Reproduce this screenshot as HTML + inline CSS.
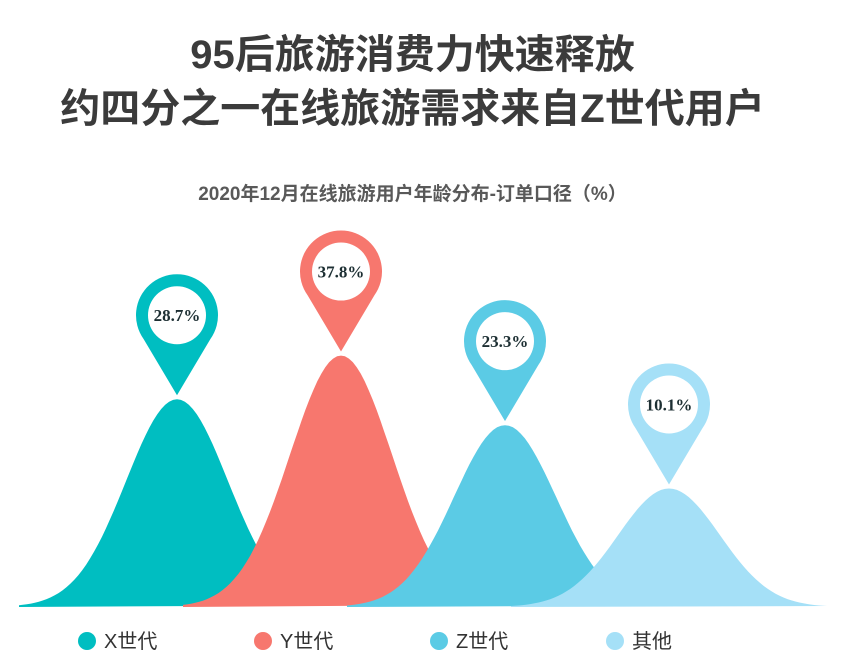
<!DOCTYPE html>
<html><head><meta charset="utf-8"><style>
body{margin:0;background:#fff;width:841px;height:662px;overflow:hidden;font-family:"Liberation Sans","Noto Sans CJK SC",sans-serif}
.t{position:absolute;left:0;width:841px;text-align:center;font-weight:bold;color:#3b3b3b}
</style></head><body>
<div class="t" style="top:22px;font-size:40px;left:-8px">95后旅游消费力快速释放</div>
<div class="t" style="top:76px;font-size:40px;left:-8px">约四分之一在线旅游需求来自Z世代用户</div>
<div class="t" style="top:179px;font-size:19px;color:#595959;left:-8px">2020年12月在线旅游用户年龄分布-订单口径（%）</div>
<svg id="c" width="841" height="662" style="position:absolute;left:0;top:0"></svg>
<script>
const categories=["X世代","Y世代","Z世代","其他"];
const values=[28.7,37.8,23.3,10.1];
const labels=["28.7%","37.8%","23.3%","10.1%"];
const colors=["#00BEC1","#F7776E","#5BCBE5","#A5E0F7"];
const NS="http://www.w3.org/2000/svg";
const svg=document.getElementById("c");
const base=607, x0=177, step=164, half=158;
function xPos(i){return x0+i*step;}
function yH(v){return 70+4.8*v;}
function mk(t,a){const e=document.createElementNS(NS,t);for(const k in a)e.setAttribute(k,a[k]);svg.appendChild(e);return e;}
values.forEach((v,i)=>{
  const c=xPos(i), h=yH(v), sig=half/3.1;
  let d="M"+(c-half)+","+base;
  for(let k=0;k<=80;k++){const x=c-half+k*2*half/80;const y=base-h*Math.exp(-((x-c)**2)/(2*sig*sig));d+=" L"+x.toFixed(1)+","+y.toFixed(1);}
  d+=" Z";
  const p=mk("path",{d:d,fill:colors[i]});
  
  
});
values.forEach((v,i)=>{
  const c=xPos(i), peak=base-yH(v), cy=peak-84, r=41, tip=peak-4;
  const a=0.95;
  const sx=r*Math.sin(a), sy=r*Math.cos(a);
  const pin=mk("path",{d:`M${c},${tip} L${c-sx},${cy+sy} A${r},${r} 0 1 1 ${c+sx},${cy+sy} Z`,fill:colors[i]});
  
  
  const w=mk("ellipse",{cx:c,cy:cy,rx:29,ry:29,fill:"#fff"});
  
  
  const t=mk("text",{x:c,y:cy+6,"text-anchor":"middle","font-family":"Liberation Serif,serif","font-weight":"bold","font-size":"17",fill:"#1d2f33"});
  t.textContent=labels[i];
  
  
  const lx=87+i*176;
  const dot=mk("circle",{cx:lx,cy:641,r:9,fill:colors[i]});
  
  
  const lt=mk("text",{x:lx+17,y:648,"font-size":"20",fill:"#333","font-family":"Liberation Sans,Noto Sans CJK SC,sans-serif"});
  lt.textContent=categories[i];
  
  
});
</script>
</body></html>
